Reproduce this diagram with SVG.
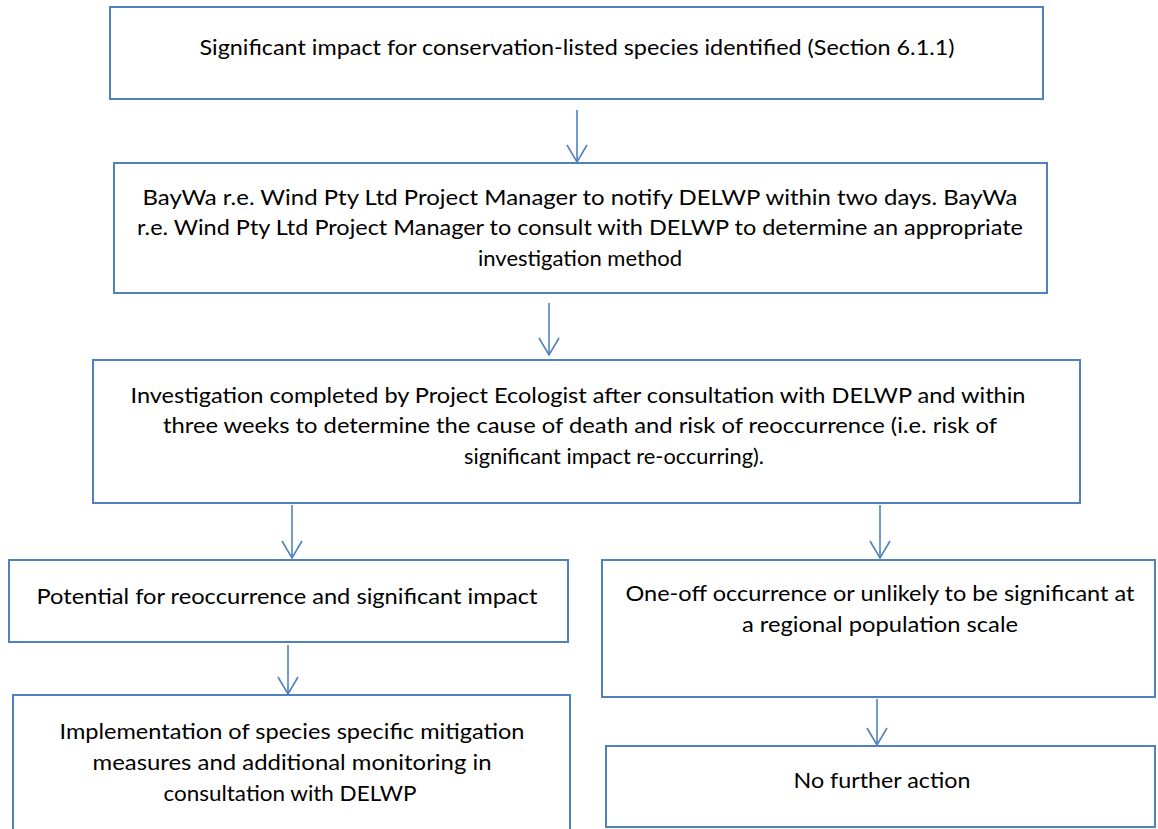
<svg xmlns="http://www.w3.org/2000/svg" width="1158" height="829" viewBox="0 0 1158 829">
<defs>
<style>
.box{fill:#fff;stroke:#4F81BD;stroke-width:2}
.t{font-family:Lato,"Open Sans","Liberation Sans",sans-serif;font-size:21px;fill:#000;text-anchor:middle}
.c{stroke:#4F81BD;stroke-width:1.6;fill:none}
</style>
<marker id="ah" markerWidth="24" markerHeight="24" refX="18" refY="11" orient="auto" markerUnits="userSpaceOnUse" viewBox="0 0 24 24">
<path d="M1,1 L18,11 L1,21" fill="none" stroke="#4F81BD" stroke-width="1.6"/>
</marker>
</defs>
<rect width="1158" height="829" fill="#fff"/>
<g id="n1"><rect class="box" x="110" y="7" width="933" height="92"/>
<text class="t" x="577" y="55" textLength="755" lengthAdjust="spacingAndGlyphs">Significant impact for conservation-listed species identified (Section 6.1.1)</text></g>
<g id="n2"><rect class="box" x="114" y="163" width="933" height="130"/>
<text class="t" x="580" y="205" textLength="875" lengthAdjust="spacingAndGlyphs">BayWa r.e. Wind Pty Ltd Project Manager to notify DELWP within two days. BayWa</text>
<text class="t" x="580" y="235" textLength="886" lengthAdjust="spacingAndGlyphs">r.e. Wind Pty Ltd Project Manager to consult with DELWP to determine an appropriate</text>
<text class="t" x="580" y="266" textLength="204" lengthAdjust="spacingAndGlyphs">investigation method</text></g>
<g id="n3"><rect class="box" x="93" y="360" width="987" height="143"/>
<text class="t" x="578" y="403" textLength="895" lengthAdjust="spacingAndGlyphs">Investigation completed by Project Ecologist after consultation with DELWP and  within</text>
<text class="t" x="580" y="433" textLength="834" lengthAdjust="spacingAndGlyphs">three weeks to determine the cause of death and risk of reoccurrence (i.e. risk of</text>
<text class="t" x="614" y="464" textLength="300" lengthAdjust="spacingAndGlyphs">significant impact re-occurring).</text></g>
<g id="n4"><rect class="box" x="9" y="560" width="559" height="82"/>
<text class="t" x="287" y="604" textLength="501" lengthAdjust="spacingAndGlyphs">Potential for reoccurrence and significant impact</text></g>
<g id="n5"><rect class="box" x="602" y="560" width="553" height="137"/>
<text class="t" x="880" y="601" textLength="509" lengthAdjust="spacingAndGlyphs">One-off occurrence or unlikely to be significant at</text>
<text class="t" x="880" y="632" textLength="276" lengthAdjust="spacingAndGlyphs">a regional population scale</text></g>
<g id="n6"><rect class="box" x="13" y="695" width="557" height="150"/>
<text class="t" x="292" y="739" textLength="465" lengthAdjust="spacingAndGlyphs">Implementation of species specific mitigation</text>
<text class="t" x="292" y="770" textLength="399" lengthAdjust="spacingAndGlyphs">measures and additional monitoring in</text>
<text class="t" x="290" y="801" textLength="253" lengthAdjust="spacingAndGlyphs">consultation with DELWP</text></g>
<g id="n7"><rect class="box" x="606" y="746" width="549" height="81"/>
<text class="t" x="882" y="788" textLength="177" lengthAdjust="spacingAndGlyphs">No further action</text></g>
<g id="connectors">
<line class="c" x1="577" y1="110" x2="577" y2="162" marker-end="url(#ah)"/>
<line class="c" x1="549" y1="303" x2="549" y2="355" marker-end="url(#ah)"/>
<line class="c" x1="292" y1="505" x2="292" y2="558" marker-end="url(#ah)"/>
<line class="c" x1="880" y1="505" x2="880" y2="558" marker-end="url(#ah)"/>
<line class="c" x1="288" y1="645" x2="288" y2="694" marker-end="url(#ah)"/>
<line class="c" x1="877" y1="699" x2="877" y2="745" marker-end="url(#ah)"/>
</g>
</svg>
